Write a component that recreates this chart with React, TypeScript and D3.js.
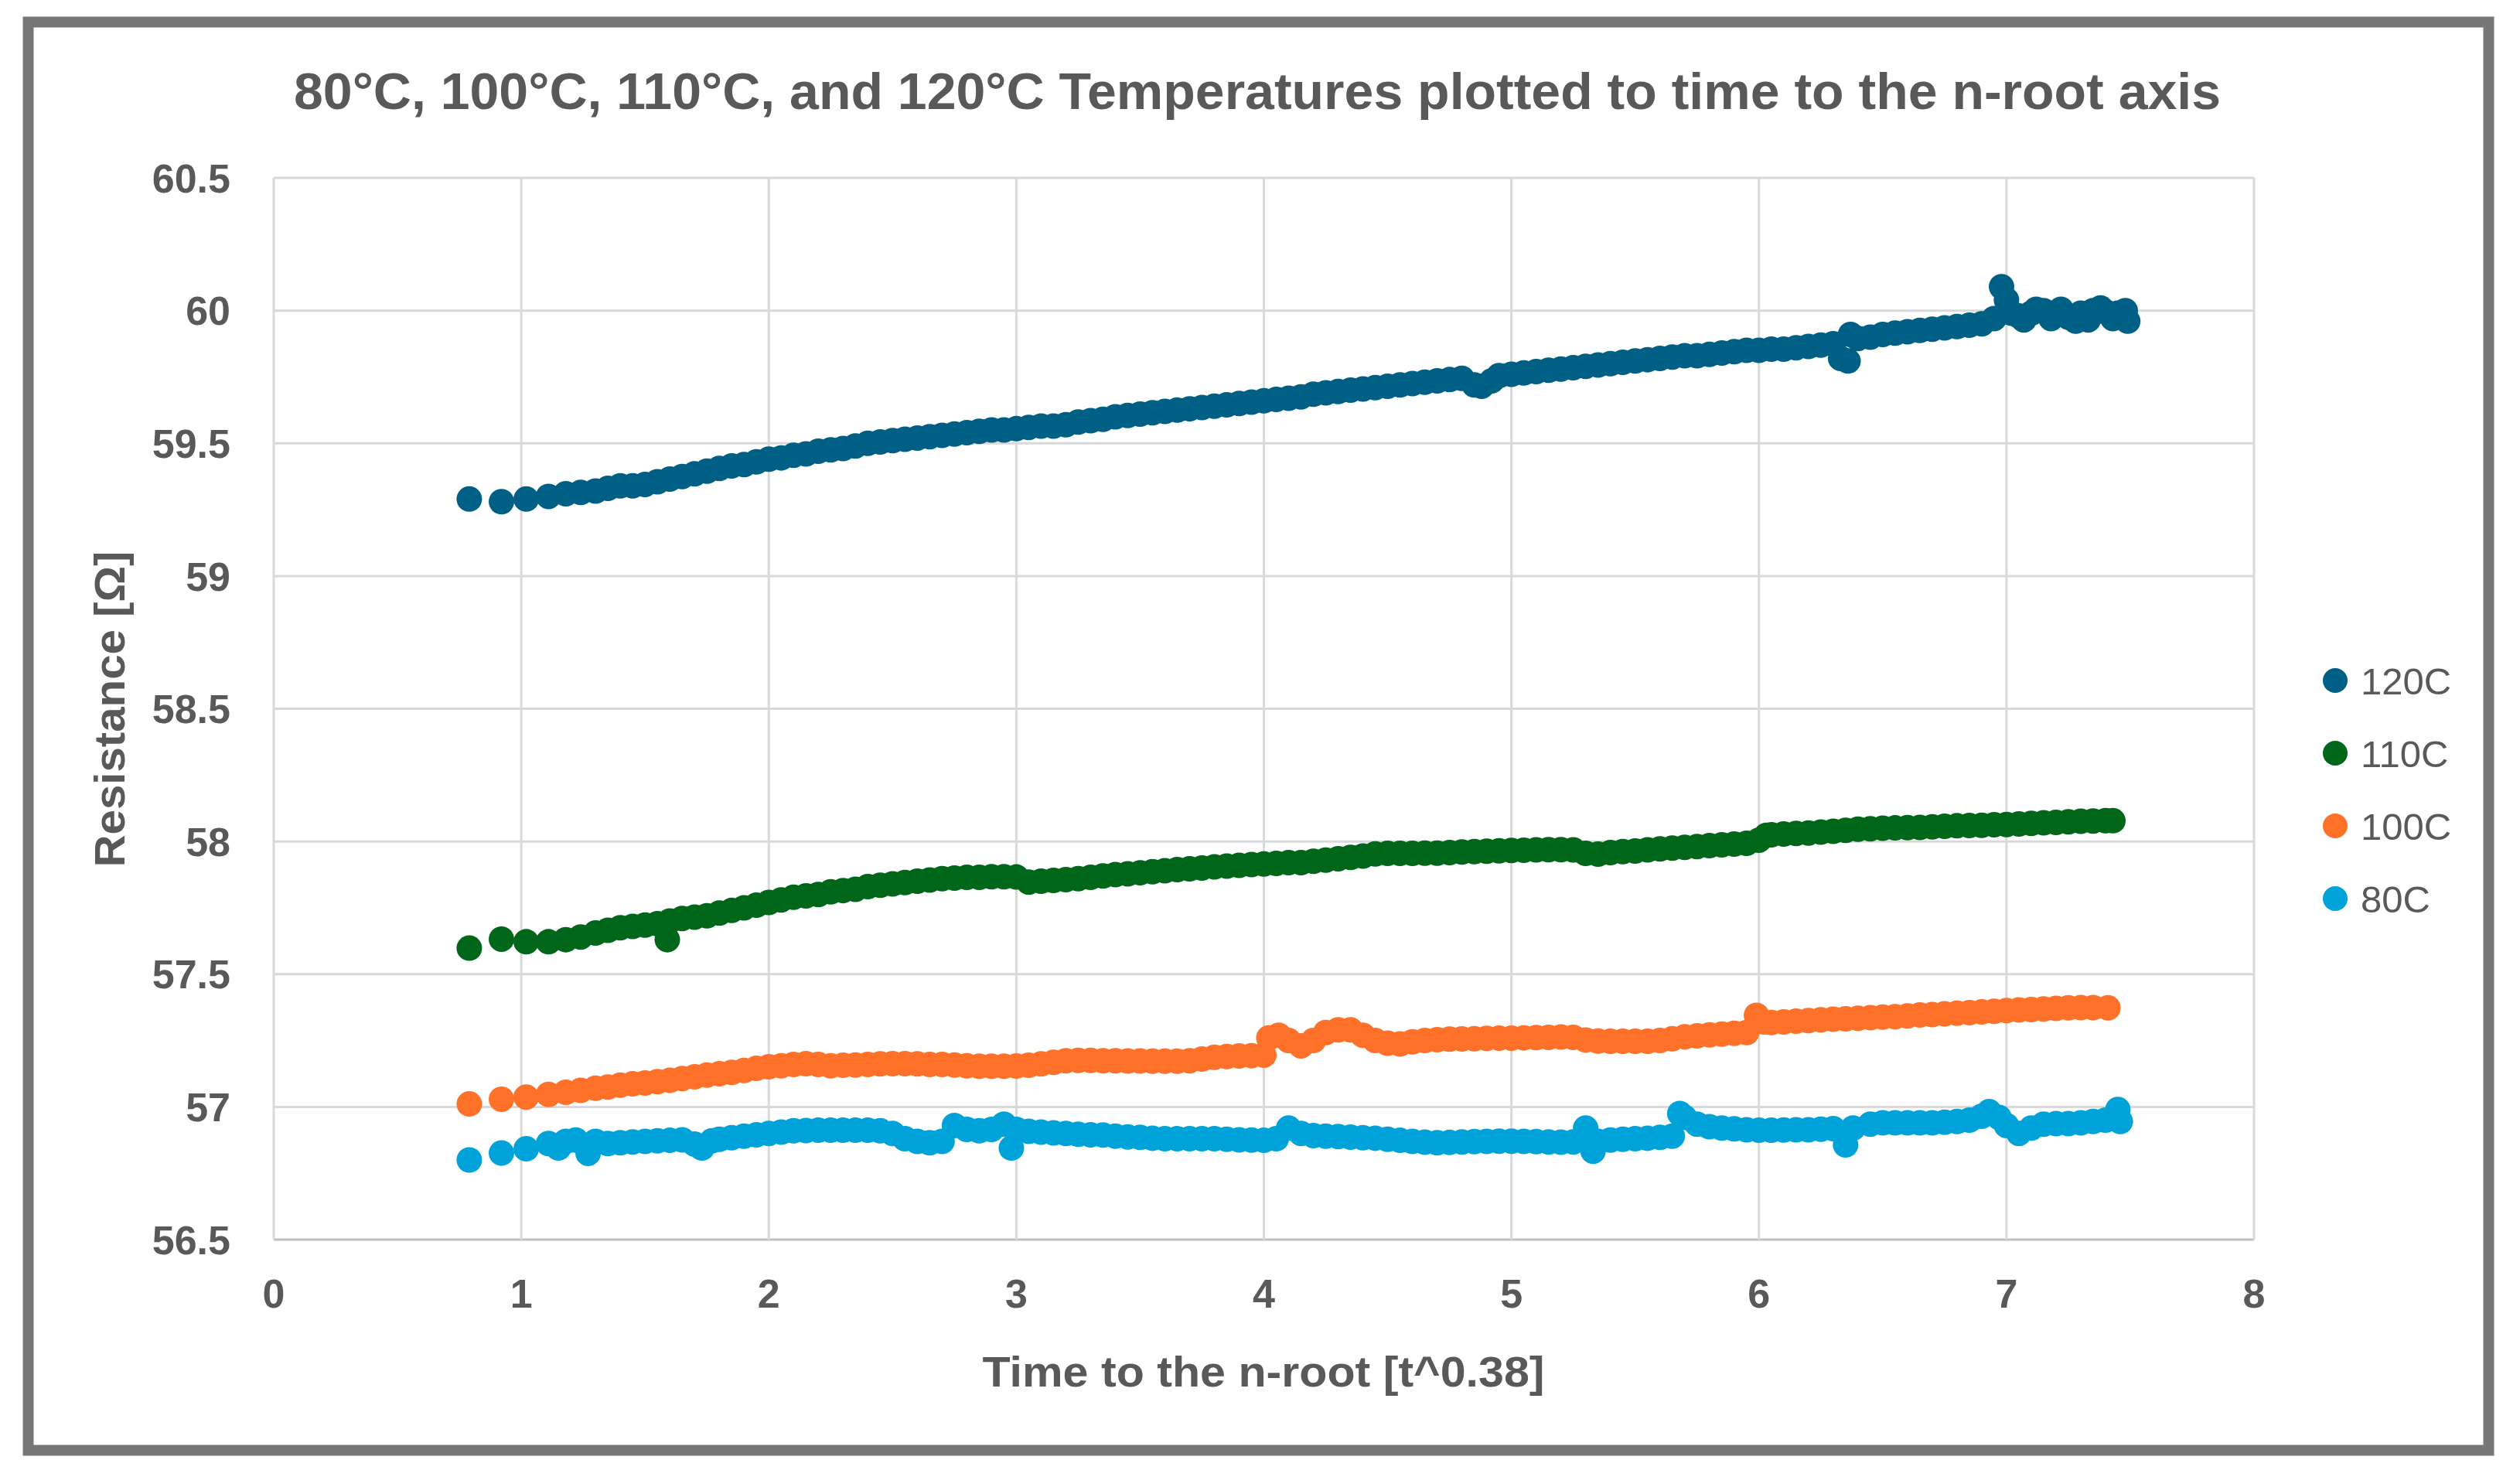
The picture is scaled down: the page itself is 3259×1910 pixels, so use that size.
import * as d3 from "d3";

// readings taken off the reference chart: [x, resistance]
const series120: [number, number][] = [
  [0.79, 59.29], [0.92, 59.28], [1.02, 59.29], [1.11, 59.3], [1.18, 59.31], [1.24, 59.315],
  [1.3, 59.32], [1.35, 59.33], [1.4, 59.34], [1.45, 59.34], [1.5, 59.345], [1.55, 59.355],
  [1.6, 59.365], [1.65, 59.375], [1.7, 59.385], [1.75, 59.395], [1.8, 59.405], [1.85, 59.415],
  [1.9, 59.42], [1.95, 59.43], [2.0, 59.44], [2.05, 59.445], [2.1, 59.455], [2.15, 59.46],
  [2.2, 59.47], [2.25, 59.475], [2.3, 59.48], [2.35, 59.49], [2.4, 59.5], [2.45, 59.505],
  [2.5, 59.51], [2.55, 59.515], [2.6, 59.52], [2.65, 59.525], [2.7, 59.53], [2.75, 59.535],
  [2.8, 59.54], [2.85, 59.545], [2.9, 59.55], [2.95, 59.55], [3.0, 59.555], [3.05, 59.56],
  [3.1, 59.565], [3.15, 59.565], [3.2, 59.57], [3.25, 59.58], [3.3, 59.585], [3.35, 59.59],
  [3.4, 59.6], [3.45, 59.605], [3.5, 59.61], [3.55, 59.615], [3.6, 59.62], [3.65, 59.625],
  [3.7, 59.63], [3.75, 59.635], [3.8, 59.64], [3.85, 59.645], [3.9, 59.65], [3.95, 59.655],
  [4.0, 59.66], [4.05, 59.665], [4.1, 59.67], [4.15, 59.675], [4.2, 59.685], [4.25, 59.69],
  [4.3, 59.695], [4.35, 59.7], [4.4, 59.705], [4.45, 59.71], [4.5, 59.715], [4.55, 59.72],
  [4.6, 59.725], [4.65, 59.73], [4.7, 59.735], [4.75, 59.74], [4.8, 59.745], [4.85, 59.72],
  [4.88, 59.715], [4.92, 59.735], [4.95, 59.755], [5.0, 59.76], [5.05, 59.765], [5.1, 59.77],
  [5.15, 59.775], [5.2, 59.78], [5.25, 59.785], [5.3, 59.79], [5.35, 59.795], [5.4, 59.8],
  [5.45, 59.805], [5.5, 59.81], [5.55, 59.815], [5.6, 59.82], [5.65, 59.825], [5.7, 59.83],
  [5.75, 59.83], [5.8, 59.835], [5.85, 59.84], [5.9, 59.845], [5.95, 59.85], [6.0, 59.85],
  [6.05, 59.855], [6.1, 59.855], [6.15, 59.86], [6.2, 59.865], [6.25, 59.87], [6.3, 59.875],
  [6.33, 59.82], [6.36, 59.81], [6.37, 59.91], [6.4, 59.895], [6.45, 59.9], [6.5, 59.91],
  [6.55, 59.915], [6.6, 59.92], [6.65, 59.925], [6.7, 59.93], [6.75, 59.935], [6.8, 59.94],
  [6.85, 59.945], [6.9, 59.95], [6.95, 59.97], [6.98, 60.09], [7.0, 60.04], [7.02, 59.99],
  [7.05, 59.98], [7.07, 59.965], [7.1, 59.99], [7.12, 60.005], [7.15, 60.0], [7.18, 59.97],
  [7.2, 59.99], [7.22, 60.005], [7.25, 59.975], [7.28, 59.96], [7.3, 59.99], [7.33, 59.965],
  [7.35, 60.0], [7.38, 60.01], [7.4, 59.995], [7.43, 59.97], [7.45, 59.99], [7.48, 60.0],
  [7.49, 59.96],
];

const series110: [number, number][] = [
  [0.79, 57.598], [0.92, 57.632], [1.02, 57.622], [1.11, 57.622], [1.18, 57.63], [1.24, 57.64],
  [1.3, 57.655], [1.35, 57.665], [1.4, 57.675], [1.45, 57.68], [1.5, 57.685], [1.55, 57.69],
  [1.59, 57.63], [1.6, 57.7], [1.65, 57.71], [1.7, 57.715], [1.75, 57.72], [1.8, 57.73],
  [1.85, 57.74], [1.9, 57.75], [1.95, 57.76], [2.0, 57.77], [2.05, 57.78], [2.1, 57.79],
  [2.15, 57.795], [2.2, 57.8], [2.25, 57.81], [2.3, 57.815], [2.35, 57.82], [2.4, 57.83],
  [2.45, 57.835], [2.5, 57.84], [2.55, 57.845], [2.6, 57.85], [2.65, 57.855], [2.7, 57.86],
  [2.75, 57.862], [2.8, 57.865], [2.85, 57.865], [2.9, 57.867], [2.95, 57.867], [3.0, 57.866],
  [3.05, 57.847], [3.1, 57.85], [3.15, 57.853], [3.2, 57.856], [3.25, 57.86], [3.3, 57.865],
  [3.35, 57.87], [3.4, 57.875], [3.45, 57.878], [3.5, 57.882], [3.55, 57.886], [3.6, 57.89],
  [3.65, 57.894], [3.7, 57.897], [3.75, 57.9], [3.8, 57.904], [3.85, 57.907], [3.9, 57.91],
  [3.95, 57.913], [4.0, 57.915], [4.05, 57.917], [4.1, 57.92], [4.15, 57.92], [4.2, 57.925],
  [4.25, 57.93], [4.3, 57.935], [4.35, 57.94], [4.4, 57.945], [4.45, 57.953], [4.5, 57.955],
  [4.55, 57.955], [4.6, 57.955], [4.65, 57.956], [4.7, 57.956], [4.75, 57.958], [4.8, 57.96],
  [4.85, 57.962], [4.9, 57.963], [4.95, 57.965], [5.0, 57.966], [5.05, 57.967], [5.1, 57.968],
  [5.15, 57.969], [5.2, 57.969], [5.25, 57.968], [5.3, 57.955], [5.35, 57.952], [5.4, 57.958],
  [5.45, 57.962], [5.5, 57.964], [5.55, 57.968], [5.6, 57.972], [5.65, 57.975], [5.7, 57.978],
  [5.75, 57.981], [5.8, 57.984], [5.85, 57.987], [5.9, 57.99], [5.95, 57.993], [6.0, 58.005],
  [6.03, 58.023], [6.05, 58.025], [6.1, 58.028], [6.15, 58.03], [6.2, 58.032], [6.25, 58.035],
  [6.3, 58.038], [6.35, 58.042], [6.4, 58.046], [6.45, 58.048], [6.5, 58.05], [6.55, 58.051],
  [6.6, 58.052], [6.65, 58.053], [6.7, 58.055], [6.75, 58.057], [6.8, 58.059], [6.85, 58.06],
  [6.9, 58.061], [6.95, 58.063], [7.0, 58.064], [7.05, 58.066], [7.1, 58.068], [7.15, 58.07],
  [7.2, 58.072], [7.25, 58.074], [7.3, 58.076], [7.35, 58.077], [7.4, 58.078], [7.43, 58.078],
];

const series100: [number, number][] = [
  [0.79, 57.011], [0.92, 57.029], [1.02, 57.037], [1.11, 57.047], [1.18, 57.055], [1.24, 57.062],
  [1.3, 57.07], [1.35, 57.075], [1.4, 57.082], [1.45, 57.087], [1.5, 57.09], [1.55, 57.095],
  [1.6, 57.1], [1.65, 57.107], [1.7, 57.113], [1.75, 57.12], [1.8, 57.125], [1.85, 57.13],
  [1.9, 57.137], [1.95, 57.145], [2.0, 57.151], [2.05, 57.155], [2.1, 57.16], [2.15, 57.163],
  [2.2, 57.16], [2.25, 57.155], [2.3, 57.157], [2.35, 57.158], [2.4, 57.16], [2.45, 57.162],
  [2.5, 57.163], [2.55, 57.163], [2.6, 57.162], [2.65, 57.16], [2.7, 57.16], [2.75, 57.158],
  [2.8, 57.155], [2.85, 57.153], [2.9, 57.153], [2.95, 57.153], [3.0, 57.154], [3.05, 57.157],
  [3.1, 57.162], [3.15, 57.168], [3.2, 57.174], [3.25, 57.175], [3.3, 57.175], [3.35, 57.174],
  [3.4, 57.174], [3.45, 57.173], [3.5, 57.173], [3.55, 57.172], [3.6, 57.172], [3.65, 57.172],
  [3.7, 57.174], [3.75, 57.18], [3.8, 57.187], [3.85, 57.19], [3.9, 57.192], [3.95, 57.193],
  [4.0, 57.195], [4.02, 57.26], [4.06, 57.27], [4.1, 57.25], [4.15, 57.23], [4.2, 57.25],
  [4.25, 57.28], [4.3, 57.29], [4.35, 57.29], [4.4, 57.27], [4.45, 57.25], [4.5, 57.24],
  [4.55, 57.237], [4.6, 57.245], [4.65, 57.25], [4.7, 57.253], [4.75, 57.255], [4.8, 57.256],
  [4.85, 57.257], [4.9, 57.258], [4.95, 57.259], [5.0, 57.259], [5.05, 57.26], [5.1, 57.261],
  [5.15, 57.262], [5.2, 57.263], [5.25, 57.262], [5.3, 57.252], [5.35, 57.248], [5.4, 57.247],
  [5.45, 57.247], [5.5, 57.247], [5.55, 57.247], [5.6, 57.25], [5.65, 57.257], [5.7, 57.264],
  [5.75, 57.268], [5.8, 57.271], [5.85, 57.274], [5.9, 57.277], [5.95, 57.28], [5.99, 57.345],
  [6.02, 57.32], [6.05, 57.318], [6.1, 57.32], [6.15, 57.323], [6.2, 57.325], [6.25, 57.328],
  [6.3, 57.33], [6.35, 57.332], [6.4, 57.334], [6.45, 57.336], [6.5, 57.338], [6.55, 57.34],
  [6.6, 57.343], [6.65, 57.346], [6.7, 57.348], [6.75, 57.351], [6.8, 57.353], [6.85, 57.355],
  [6.9, 57.358], [6.95, 57.36], [7.0, 57.363], [7.05, 57.365], [7.1, 57.367], [7.15, 57.369],
  [7.2, 57.371], [7.25, 57.373], [7.3, 57.374], [7.35, 57.374], [7.41, 57.373],
];

const series80: [number, number][] = [
  [0.79, 56.8], [0.92, 56.826], [1.02, 56.842], [1.11, 56.862], [1.15, 56.845], [1.18, 56.87],
  [1.22, 56.875], [1.27, 56.825], [1.3, 56.87], [1.35, 56.862], [1.4, 56.865], [1.45, 56.868],
  [1.5, 56.87], [1.55, 56.872], [1.6, 56.874], [1.65, 56.876], [1.7, 56.86], [1.73, 56.845],
  [1.77, 56.872], [1.8, 56.878], [1.85, 56.884], [1.9, 56.89], [1.95, 56.895], [2.0, 56.9],
  [2.05, 56.905], [2.1, 56.91], [2.15, 56.911], [2.2, 56.912], [2.25, 56.912], [2.3, 56.912],
  [2.35, 56.912], [2.4, 56.912], [2.45, 56.91], [2.5, 56.9], [2.55, 56.88], [2.6, 56.87],
  [2.65, 56.865], [2.7, 56.87], [2.75, 56.93], [2.8, 56.915], [2.85, 56.91], [2.9, 56.915],
  [2.95, 56.935], [2.98, 56.845], [3.0, 56.915], [3.05, 56.908], [3.1, 56.905], [3.15, 56.902],
  [3.2, 56.9], [3.25, 56.897], [3.3, 56.895], [3.35, 56.894], [3.4, 56.89], [3.45, 56.887],
  [3.5, 56.885], [3.55, 56.882], [3.6, 56.88], [3.65, 56.88], [3.7, 56.88], [3.75, 56.88],
  [3.8, 56.88], [3.85, 56.878], [3.9, 56.876], [3.95, 56.875], [4.0, 56.874], [4.05, 56.88],
  [4.1, 56.92], [4.15, 56.9], [4.2, 56.892], [4.25, 56.89], [4.3, 56.888], [4.35, 56.886],
  [4.4, 56.884], [4.45, 56.882], [4.5, 56.878], [4.55, 56.874], [4.6, 56.87], [4.65, 56.867],
  [4.7, 56.865], [4.75, 56.866], [4.8, 56.868], [4.85, 56.869], [4.9, 56.87], [4.95, 56.871],
  [5.0, 56.871], [5.05, 56.87], [5.1, 56.869], [5.15, 56.868], [5.2, 56.867], [5.25, 56.868],
  [5.3, 56.92], [5.33, 56.833], [5.35, 56.87], [5.4, 56.875], [5.45, 56.878], [5.5, 56.88],
  [5.55, 56.882], [5.6, 56.885], [5.65, 56.89], [5.68, 56.975], [5.7, 56.96], [5.75, 56.935],
  [5.8, 56.925], [5.85, 56.92], [5.9, 56.917], [5.95, 56.914], [6.0, 56.912], [6.05, 56.912],
  [6.1, 56.913], [6.15, 56.914], [6.2, 56.914], [6.25, 56.916], [6.3, 56.918], [6.35, 56.857],
  [6.38, 56.92], [6.45, 56.935], [6.5, 56.94], [6.55, 56.94], [6.6, 56.94], [6.65, 56.94],
  [6.7, 56.94], [6.75, 56.942], [6.8, 56.945], [6.85, 56.95], [6.9, 56.965], [6.93, 56.982],
  [6.97, 56.96], [7.0, 56.93], [7.05, 56.9], [7.1, 56.92], [7.15, 56.935], [7.2, 56.937],
  [7.25, 56.937], [7.3, 56.94], [7.35, 56.945], [7.4, 56.95], [7.45, 56.99], [7.46, 56.945],
];

const seriesNames = ["120C", "110C", "100C", "80C"];
const seriesColors = ["#005F84", "#00661A", "#FF7029", "#00A3D9"];
const allSeries = [series120, series110, series100, series80];

const xTicks = [0, 1, 2, 3, 4, 5, 6, 7, 8];
const yTicks = [56.5, 57, 57.5, 58, 58.5, 59, 59.5, 60, 60.5];

const W = 3259;
const H = 1910;
const plot = { left: 354, right: 2915, top: 230, bottom: 1603 };
const font = "'Liberation Sans', Arial, sans-serif";
const textColor = "#595959";

export default function App() {
  const x = d3.scaleLinear().domain([0, 8]).range([plot.left, plot.right]);
  const y = d3.scaleLinear().domain([56.5, 60.5]).range([plot.bottom, plot.top]);

  return (
    <svg
      width={W}
      height={H}
      viewBox={`0 0 ${W} ${H}`}
      style={{ position: "absolute", left: 0, top: 0, background: "#fff" }}
    >
      <rect x={36.5} y={28.5} width={3182} height={1847} fill="#fff" stroke="#767676" strokeWidth={14} />

      <text
        x={1626}
        y={141}
        textAnchor="middle"
        fontFamily={font}
        fontWeight="bold"
        fontSize={66}
        fill={textColor}
        textLength={2492}
        lengthAdjust="spacingAndGlyphs"
      >
        80°C, 100°C, 110°C, and 120°C Temperatures plotted to time to the n-root axis
      </text>

      {/* grid */}
      {yTicks.map((t) => (
        <line
          key={"gy" + t}
          x1={plot.left}
          x2={plot.right}
          y1={y(t)}
          y2={y(t)}
          stroke={t === 56.5 ? "#BFBFBF" : "#D9D9D9"}
          strokeWidth={3}
        />
      ))}
      {xTicks.map((t) => (
        <line key={"gx" + t} x1={x(t)} x2={x(t)} y1={plot.top} y2={plot.bottom} stroke="#D9D9D9" strokeWidth={3} />
      ))}

      {/* tick labels */}
      {yTicks.map((t) => (
        <text
          key={"ly" + t}
          x={298}
          y={y(t)}
          dy="0.36em"
          textAnchor="end"
          fontFamily={font}
          fontWeight="bold"
          fontSize={52}
          fill={textColor}
        >
          {t}
        </text>
      ))}
      {xTicks.map((t) => (
        <text
          key={"lx" + t}
          x={x(t)}
          y={1691}
          textAnchor="middle"
          fontFamily={font}
          fontWeight="bold"
          fontSize={52}
          fill={textColor}
        >
          {t}
        </text>
      ))}

      {/* axis titles */}
      <text
        x={1634}
        y={1793}
        textAnchor="middle"
        fontFamily={font}
        fontWeight="bold"
        fontSize={56}
        fill={textColor}
        textLength={727}
        lengthAdjust="spacingAndGlyphs"
      >
        Time to the n-root [t^0.38]
      </text>
      <text
        transform="translate(161,917) rotate(-90)"
        textAnchor="middle"
        fontFamily={font}
        fontWeight="bold"
        fontSize={56}
        fill={textColor}
        textLength={409}
        lengthAdjust="spacingAndGlyphs"
      >
        Resistance [Ω]
      </text>

      {/* points, drawn 80C first so 120C sits on top */}
      {allSeries
        .map((s, i) => ({ s, i }))
        .reverse()
        .map(({ s, i }) => (
          <g key={seriesNames[i]} fill={seriesColors[i]}>
            {s.map(([px, py], j) => (
              <circle key={j} cx={x(px)} cy={y(py)} r={16.5} />
            ))}
          </g>
        ))}

      {/* legend */}
      {seriesNames.map((n, i) => (
        <g key={"lg" + n} transform={`translate(3020,${880 + i * 94})`}>
          <circle r={16} fill={seriesColors[i]} />
          <text x={33} dy="0.36em" fontFamily={font} fontSize={49} fill={textColor}>
            {n}
          </text>
        </g>
      ))}
    </svg>
  );
}
